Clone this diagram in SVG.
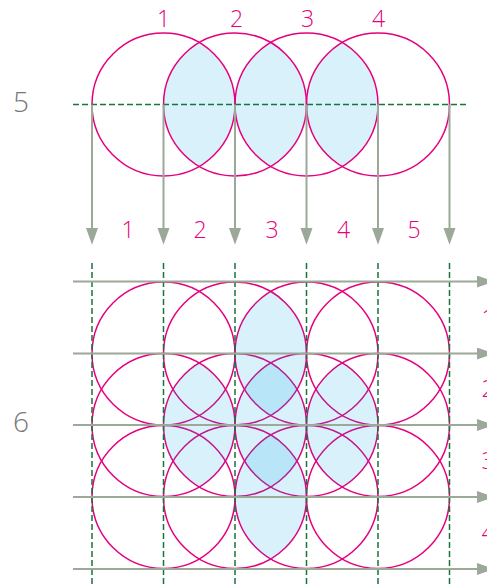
<svg xmlns="http://www.w3.org/2000/svg" width="487" height="587" viewBox="0 0 487 587">
<defs>
<style>
.c{fill:none;stroke:#e5007e;stroke-width:1.5}
.lens{fill:#00a0e3;fill-opacity:0.15;stroke:none}
.dash{stroke:#17743a;stroke-width:1.5;stroke-dasharray:6 3;fill:none}
.arr{stroke:#9ca898;stroke-width:2;fill:none;marker-end:url(#ah)}
.pk{font-family:"Open Sans","Liberation Sans",sans-serif;font-weight:300;font-size:23px;fill:#e5007e;text-anchor:middle}
.gr{font-family:"Open Sans","Liberation Sans",sans-serif;font-weight:300;font-size:28px;fill:#777777;text-anchor:middle}
</style>
<marker id="ah" markerUnits="userSpaceOnUse" markerWidth="18" markerHeight="13" refX="0" refY="6" orient="auto">
<path d="M0,0 L16.7,6 L0,12 Z" fill="#9ca898"/>
</marker>
</defs>

<g id="top-diagram">
<g id="top-lenses">
<path class="lens" d="M199.25,42.58 A71.5,71.5 0 0 1 199.25,166.42 A71.5,71.5 0 0 1 199.25,42.58 Z"/>
<path class="lens" d="M270.75,42.58 A71.5,71.5 0 0 1 270.75,166.42 A71.5,71.5 0 0 1 270.75,42.58 Z"/>
<path class="lens" d="M342.25,42.58 A71.5,71.5 0 0 1 342.25,166.42 A71.5,71.5 0 0 1 342.25,42.58 Z"/>
</g>
<g id="top-circles">
<circle class="c" cx="163.5" cy="104.5" r="71.5"/>
<circle class="c" cx="235" cy="104.5" r="71.5"/>
<circle class="c" cx="306.5" cy="104.5" r="71.5"/>
<circle class="c" cx="378" cy="104.5" r="71.5"/>
</g>
<g id="top-connectors">
<line class="dash" x1="73" y1="104.5" x2="468" y2="104.5"/>
<line class="arr" x1="92" y1="104.5" x2="92" y2="228"/>
<line class="arr" x1="163.5" y1="104.5" x2="163.5" y2="228"/>
<line class="arr" x1="235" y1="104.5" x2="235" y2="228"/>
<line class="arr" x1="306.5" y1="104.5" x2="306.5" y2="228"/>
<line class="arr" x1="378" y1="104.5" x2="378" y2="228"/>
<line class="arr" x1="449.5" y1="104.5" x2="449.5" y2="228"/>
</g>
<g id="top-labels">
<text class="pk" x="163.5" y="27">1</text>
<text class="pk" x="236.5" y="27">2</text>
<text class="pk" x="307.5" y="27">3</text>
<text class="pk" x="378.5" y="27">4</text>
<text class="pk" x="128" y="237.5">1</text>
<text class="pk" x="200" y="237.5">2</text>
<text class="pk" x="272" y="237.5">3</text>
<text class="pk" x="343.5" y="237.5">4</text>
<text class="pk" x="414" y="237.5">5</text>
<text class="gr" x="21" y="111.5">5</text>
</g>
</g>

<g id="bottom-diagram">
<g id="grid-circles">
<circle class="c" cx="163.5" cy="353.5" r="71.5"/>
<circle class="c" cx="235" cy="353.5" r="71.5"/>
<circle class="c" cx="306.5" cy="353.5" r="71.5"/>
<circle class="c" cx="378" cy="353.5" r="71.5"/>
<circle class="c" cx="163.5" cy="425" r="71.5"/>
<circle class="c" cx="235" cy="425" r="71.5"/>
<circle class="c" cx="306.5" cy="425" r="71.5"/>
<circle class="c" cx="378" cy="425" r="71.5"/>
<circle class="c" cx="163.5" cy="497" r="71.5"/>
<circle class="c" cx="235" cy="497" r="71.5"/>
<circle class="c" cx="306.5" cy="497" r="71.5"/>
<circle class="c" cx="378" cy="497" r="71.5"/>
</g>
<g id="grid-lenses">
<path class="lens" d="M270.75,291.58 A71.5,71.5 0 0 1 270.75,415.42 A71.5,71.5 0 0 1 270.75,291.58 Z"/>
<path class="lens" d="M199.25,363.08 A71.5,71.5 0 0 1 199.25,486.92 A71.5,71.5 0 0 1 199.25,363.08 Z"/>
<path class="lens" d="M270.75,363.08 A71.5,71.5 0 0 1 270.75,486.92 A71.5,71.5 0 0 1 270.75,363.08 Z"/>
<path class="lens" d="M342.25,363.08 A71.5,71.5 0 0 1 342.25,486.92 A71.5,71.5 0 0 1 342.25,363.08 Z"/>
<path class="lens" d="M270.75,435.08 A71.5,71.5 0 0 1 270.75,558.92 A71.5,71.5 0 0 1 270.75,435.08 Z"/>
</g>
<g id="grid-connectors">
<line class="dash" x1="92" y1="263" x2="92" y2="587"/>
<line class="dash" x1="163.5" y1="263" x2="163.5" y2="587"/>
<line class="dash" x1="235" y1="263" x2="235" y2="587"/>
<line class="dash" x1="306.5" y1="263" x2="306.5" y2="587"/>
<line class="dash" x1="378" y1="263" x2="378" y2="587"/>
<line class="dash" x1="449.5" y1="263" x2="449.5" y2="587"/>
<line class="arr" x1="73" y1="281.5" x2="477" y2="281.5"/>
<line class="arr" x1="73" y1="353.5" x2="477" y2="353.5"/>
<line class="arr" x1="73" y1="425" x2="477" y2="425"/>
<line class="arr" x1="73" y1="497" x2="477" y2="497"/>
<line class="arr" x1="73" y1="569" x2="477" y2="569"/>
</g>
<g id="grid-labels">
<text class="pk" x="488" y="325.5">1</text>
<text class="pk" x="488" y="397">2</text>
<text class="pk" x="488" y="469">3</text>
<text class="pk" x="488" y="541">4</text>
<text class="gr" x="21" y="431.5">6</text>
</g>
</g>
</svg>
